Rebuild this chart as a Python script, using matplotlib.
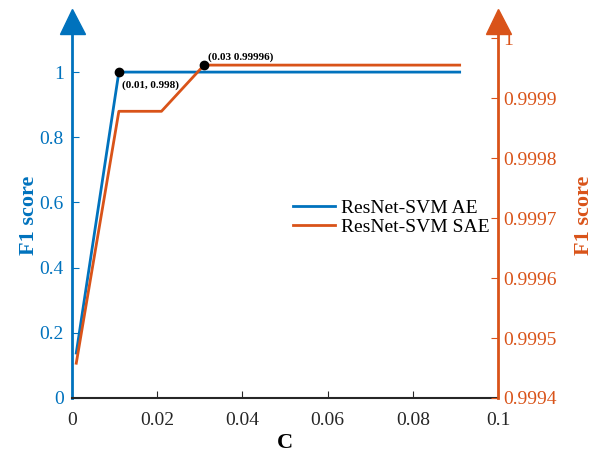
import numpy as np
import matplotlib.pyplot as plt

plt.rcParams['font.family'] = ['Liberation Serif', 'DejaVu Serif']
plt.rcParams['mathtext.fontset'] = 'stix'

# data
c_vals = [0.001, 0.011, 0.021, 0.031, 0.041, 0.051, 0.061, 0.071, 0.081, 0.091]
f1_ae = [0.138, 1.0, 1.0, 1.0, 1.0, 1.0, 1.0, 1.0, 1.0, 1.0]
f1_sae = [0.999458, 0.999878, 0.999878, 0.999955, 0.999955, 0.999955,
          0.999955, 0.999955, 0.999955, 0.999955]
left_ticks = [0, 0.2, 0.4, 0.6, 0.8, 1]
right_ticks = [0.9994, 0.9995, 0.9996, 0.9997, 0.9998, 0.9999, 1.0]
x_ticks = [0, 0.02, 0.04, 0.06, 0.08, 0.1]

blue = '#0072BD'
orange = '#D95319'

fig = plt.figure(figsize=(5.94, 4.53), dpi=100)
ax = fig.add_axes([72/594, 1-398/453, 426/594, 366/453])
ax2 = ax.twinx()

l1, = ax.plot(c_vals, f1_ae, color=blue, lw=2, label='ResNet-SVM AE')
l2, = ax2.plot(c_vals, f1_sae, color=orange, lw=2, label='ResNet-SVM SAE')

# highlighted points
ax.plot(c_vals[1], f1_ae[1], 'o', color='black', ms=6, zorder=5)
ax2.plot(c_vals[3], f1_sae[3], 'o', color='black', ms=6, zorder=5)
ax.annotate('(0.01, 0.998)', xy=(c_vals[1], f1_ae[1]), xytext=(2, -11),
            textcoords='offset points', fontsize=8, fontweight='bold')
ax2.annotate('(0.03 0.99996)', xy=(c_vals[3], f1_sae[3]), xytext=(3, 4),
             textcoords='offset points', fontsize=8, fontweight='bold')

ax.set_xlim(0, 0.1)
ax.set_ylim(0, 1.123)
ax2.set_ylim(0.9994, 1.0000102)

ax.set_xticks(x_ticks)
ax.set_xticklabels(['0', '0.02', '0.04', '0.06', '0.08', '0.1'])
ax.set_yticks(left_ticks)
ax.set_yticklabels(['0', '0.2', '0.4', '0.6', '0.8', '1'])
ax2.set_yticks(right_ticks)
ax2.set_yticklabels(['0.9994', '0.9995', '0.9996', '0.9997', '0.9998', '0.9999', '1'])

ax.tick_params(axis='x', direction='in', length=5, labelsize=14, colors='#262626', pad=10)
ax.tick_params(axis='y', direction='in', length=5, labelsize=14, colors=blue, pad=6)
ax2.tick_params(axis='y', direction='in', length=5, labelsize=14, colors=orange, pad=4)

ax.spines['top'].set_visible(False)
ax2.spines['top'].set_visible(False)
ax2.spines['left'].set_visible(False)
ax2.spines['bottom'].set_visible(False)
ax.spines['right'].set_visible(False)
ax.spines['left'].set_color(blue)
ax.spines['left'].set_linewidth(2)
ax2.spines['right'].set_color(orange)
ax2.spines['right'].set_linewidth(2)
ax.spines['bottom'].set_color('#262626')
ax.spines['bottom'].set_linewidth(1.5)

# arrow heads on the y axes
ax.plot(0, 1.03, marker='^', ms=18, color=blue, transform=ax.transAxes, clip_on=False)
ax.plot(1, 1.03, marker='^', ms=18, color=orange, transform=ax.transAxes, clip_on=False)

ax.set_xlabel('C', fontsize=16, fontweight='bold', labelpad=3)
ax.set_ylabel('F1 score', fontsize=16, fontweight='bold', color=blue, labelpad=0)
ax2.set_ylabel('F1 score', fontsize=16, fontweight='bold', color=orange, labelpad=12)

ax.legend(handles=[l1, l2], frameon=False, fontsize=14, loc='center left',
          bbox_to_anchor=(0.519, 0.493), borderpad=0, borderaxespad=0,
          handlelength=2.16, handletextpad=0.3, labelspacing=0.1)

fig.savefig('out.png', dpi=100)
